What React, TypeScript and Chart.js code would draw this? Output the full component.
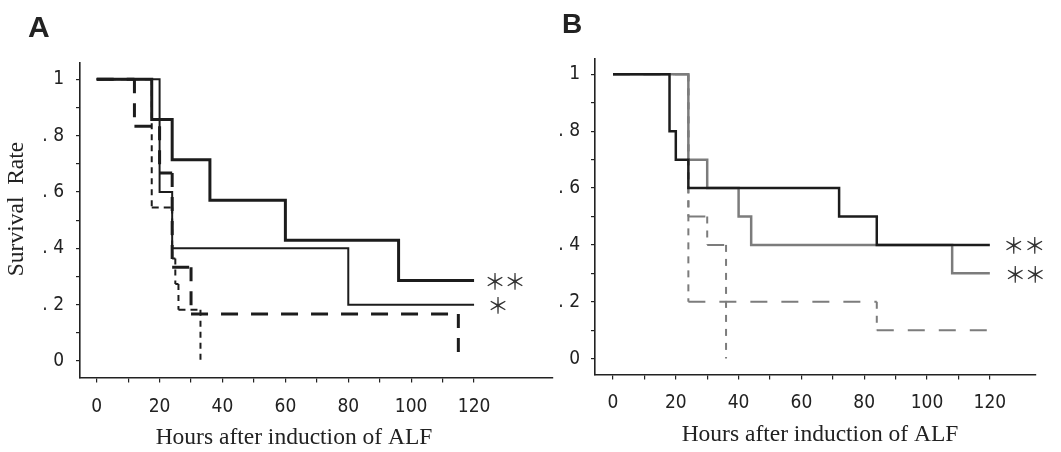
import React, { useEffect, useRef } from "react";
import { Chart, registerables } from "chart.js";

Chart.register(...registerables);

// ---------- Panel A data (hours, survival rate; Kaplan–Meier steps) ----------
const A_THICK_TIMES = [0, 17.5, 24, 36, 60, 96, 120];
const A_THICK_RATES = [1, 0.857, 0.714, 0.571, 0.429, 0.286, 0.286];
const A_THIN_TIMES = [0, 20, 24, 80, 120];
const A_THIN_RATES = [1, 0.6, 0.4, 0.2, 0.2];
const A_LONGDASH_TIMES = [0, 12, 20, 24, 30, 115];
const A_LONGDASH_RATES = [1, 0.833, 0.667, 0.333, 0.167, 0];
const A_SHORTDASH_TIMES = [0, 17.5, 24, 25, 26, 33];
const A_SHORTDASH_RATES = [1, 0.545, 0.364, 0.273, 0.182, 0];

// ---------- Panel B data ----------
const B_DARK_TIMES = [0, 18, 20, 24, 72, 84, 120];
const B_DARK_RATES = [1, 0.8, 0.7, 0.6, 0.5, 0.4, 0.4];
const B_GRAY_TIMES = [0, 24, 30, 40, 44, 108, 120];
const B_GRAY_RATES = [1, 0.7, 0.6, 0.5, 0.4, 0.3, 0.3];
const B_DASH1_TIMES = [0, 24, 30, 36];
const B_DASH1_RATES = [1, 0.5, 0.4, 0];
const B_DASH2_TIMES = [0, 24, 84, 120];
const B_DASH2_RATES = [1, 0.2, 0.1, 0.1];

// ---------- Axes ----------
const X_TICKS = [0, 10, 20, 30, 40, 50, 60, 70, 80, 90, 100, 110, 120];
const X_LABELED = [0, 20, 40, 60, 80, 100, 120];
const Y_TICKS = [0, 0.1, 0.2, 0.3, 0.4, 0.5, 0.6, 0.7, 0.8, 0.9, 1];
const Y_LABEL_VALUES = [0, 0.2, 0.4, 0.6, 0.8, 1];
const Y_LABEL_TEXT = ["0", ". 2", ". 4", ". 6", ". 8", "1"];
const X_TITLE = "Hours after induction of ALF";
const Y_TITLE = "Survival  Rate";
const STAR2 = ["＊", "＊"];
const STAR1 = ["＊"];

type Series = {
  times: number[];
  rates: number[];
  color: string;
  width: number;
  hDash: number[];
  vDash: number[];
};

function kmPoints(times: number[], rates: number[]) {
  const pts: { x: number; y: number }[] = [{ x: times[0], y: rates[0] }];
  for (let i = 1; i < times.length; i++) {
    pts.push({ x: times[i], y: rates[i - 1] });
    if (rates[i] !== rates[i - 1]) pts.push({ x: times[i], y: rates[i] });
  }
  return pts;
}

type Panel = {
  letter: string;
  letterFont: number;
  letterX: number;
  letterY: number;
  series: Series[];
  xMin: number;
  xMax: number;
  yMin: number;
  yMax: number;
  padTop: number;
  padRight: number;
  yAxisWidth: number;
  xAxisHeight: number;
  xTickPad: number;
  yTickPad: number;
  xTitleX: number;
  xTitleY: number;
  yTitle: boolean;
  stars: { series: number; marks: string[]; offsets: number[] }[];
};

const INK = "#1c1c1c";
const GRAY = "#7c7c7c";
const TICK_FONT = '"DejaVu Sans Condensed", "Liberation Sans", sans-serif';

const PANEL_A: Panel = {
  letter: "A",
  letterFont: 30,
  letterX: 28,
  letterY: 37,
  series: [
    { times: A_THICK_TIMES, rates: A_THICK_RATES, color: INK, width: 3, hDash: [], vDash: [] },
    { times: A_THIN_TIMES, rates: A_THIN_RATES, color: INK, width: 2, hDash: [], vDash: [] },
    { times: A_LONGDASH_TIMES, rates: A_LONGDASH_RATES, color: INK, width: 3, hDash: [17, 13], vDash: [14, 10] },
    { times: A_SHORTDASH_TIMES, rates: A_SHORTDASH_RATES, color: INK, width: 2, hDash: [7, 5], vDash: [6, 5] },
  ],
  xMin: -5.31,
  xMax: 145.1,
  yMin: -0.0586,
  yMax: 1.0586,
  padTop: 62.8,
  padRight: 3,
  yAxisWidth: 80,
  xAxisHeight: 452 - 377.5,
  xTickPad: 13,
  yTickPad: 12,
  xTitleX: 294,
  xTitleY: 444,
  yTitle: true,
  stars: [
    { series: 0, marks: STAR2, offsets: [21, 41] },
    { series: 1, marks: STAR1, offsets: [24] },
  ],
};

const PANEL_B: Panel = {
  letter: "B",
  letterFont: 28,
  letterX: 32,
  letterY: 33,
  series: [
    { times: B_DARK_TIMES, rates: B_DARK_RATES, color: INK, width: 2.5, hDash: [], vDash: [] },
    { times: B_GRAY_TIMES, rates: B_GRAY_RATES, color: GRAY, width: 2.5, hDash: [], vDash: [] },
    { times: B_DASH1_TIMES, rates: B_DASH1_RATES, color: GRAY, width: 2, hDash: [17, 13], vDash: [7, 7] },
    { times: B_DASH2_TIMES, rates: B_DASH2_RATES, color: GRAY, width: 2, hDash: [17, 14], vDash: [7, 7] },
  ],
  xMin: -5.73,
  xMax: 134.7,
  yMin: -0.0559,
  yMax: 1.0565,
  padTop: 58.3,
  padRight: 25,
  yAxisWidth: 65,
  xAxisHeight: 452 - 374.5,
  xTickPad: 12,
  yTickPad: 11,
  xTitleX: 290,
  xTitleY: 441,
  yTitle: false,
  stars: [
    { series: 0, marks: STAR2, offsets: [24, 45] },
    { series: 1, marks: STAR2, offsets: [25.5, 45.5] },
  ],
};

function makeConfig(p: Panel): any {
  const deco = {
    id: "deco-" + p.letter,
    afterDraw(chart: any) {
      const { ctx } = chart;
      const xs = chart.scales.x;
      const ys = chart.scales.y;
      ctx.save();
      ctx.fillStyle = "#222";
      // panel letter
      ctx.font = `bold ${p.letterFont}px "Liberation Sans", Arial, sans-serif`;
      ctx.textAlign = "left";
      ctx.textBaseline = "alphabetic";
      ctx.fillText(p.letter, p.letterX, p.letterY);
      // x title
      ctx.font = `23.5px "Liberation Serif", "Times New Roman", serif`;
      ctx.textAlign = "center";
      ctx.fillText(X_TITLE, p.xTitleX, p.xTitleY);
      // y title
      if (p.yTitle) {
        ctx.save();
        ctx.translate(17, 209);
        ctx.rotate(-Math.PI / 2);
        ctx.textBaseline = "middle";
        ctx.fillText(Y_TITLE, 0, 0);
        ctx.restore();
      }
      // asterisks
      ctx.font = `22px "Noto Sans CJK JP", "DejaVu Sans", sans-serif`;
      ctx.textBaseline = "middle";
      ctx.fillStyle = "#333";
      for (const st of p.stars) {
        const s = p.series[st.series];
        const lastT = s.times[s.times.length - 1];
        const lastR = s.rates[s.rates.length - 1];
        const px = xs.getPixelForValue(lastT);
        const py = ys.getPixelForValue(lastR);
        st.marks.forEach((m, i) => ctx.fillText(m, px + st.offsets[i], py));
      }
      ctx.restore();
    },
  };

  return {
    type: "line",
    data: {
      datasets: p.series.map((s) => ({
        data: kmPoints(s.times, s.rates),
        borderColor: s.color,
        borderWidth: s.width,
        borderDash: s.hDash,
        borderCapStyle: "butt",
        borderJoinStyle: "miter",
        pointRadius: 0,
        tension: 0,
        fill: false,
        segment: {
          borderDash: (ctx: any) =>
            s.hDash.length === 0
              ? []
              : ctx.p0.parsed.x === ctx.p1.parsed.x
              ? s.vDash
              : s.hDash,
        },
      })),
    },
    options: {
      animation: false,
      responsive: false,
      maintainAspectRatio: false,
      events: [],
      layout: { padding: { top: p.padTop, right: p.padRight, bottom: 0, left: 0 } },
      plugins: { legend: { display: false }, tooltip: { enabled: false }, title: { display: false } },
      scales: {
        x: {
          type: "linear",
          min: p.xMin,
          max: p.xMax,
          afterBuildTicks: (sc: any) => {
            sc.ticks = X_TICKS.map((v) => ({ value: v }));
          },
          afterFit: (sc: any) => {
            sc.height = p.xAxisHeight;
          },
          ticks: {
            autoSkip: false,
            maxRotation: 0,
            minRotation: 0,
            padding: p.xTickPad,
            color: "#222",
            font: { family: TICK_FONT, size: 19 },
            callback: (v: any) => (X_LABELED.includes(v) ? String(v) : ""),
          },
          grid: { drawOnChartArea: false, drawTicks: true, tickLength: 5, color: "#222", lineWidth: 1.2 },
          border: { display: true, color: "#222", width: 1.6 },
        },
        y: {
          type: "linear",
          min: p.yMin,
          max: p.yMax,
          afterBuildTicks: (sc: any) => {
            sc.ticks = Y_TICKS.map((v) => ({ value: v }));
          },
          afterFit: (sc: any) => {
            sc.width = p.yAxisWidth;
          },
          ticks: {
            autoSkip: false,
            padding: p.yTickPad,
            color: "#222",
            font: { family: TICK_FONT, size: 19 },
            callback: (v: any) => {
              const idx = Y_LABEL_VALUES.findIndex((q) => Math.abs(q - v) < 1e-6);
              return idx >= 0 ? Y_LABEL_TEXT[idx] : "";
            },
          },
          grid: { drawOnChartArea: false, drawTicks: true, tickLength: 4, color: "#222", lineWidth: 1.2 },
          border: { display: true, color: "#222", width: 1.6 },
        },
      },
    },
    plugins: [deco],
  };
}

function PanelChart({ panel, left, width }: { panel: Panel; left: number; width: number }) {
  const ref = useRef<HTMLCanvasElement | null>(null);
  useEffect(() => {
    if (!ref.current) return;
    const chart = new Chart(ref.current, makeConfig(panel));
    return () => chart.destroy();
  }, [panel]);
  return (
    <canvas
      ref={ref}
      width={width}
      height={452}
      style={{ position: "absolute", left, top: 0, width, height: 452 }}
    />
  );
}

export default function App() {
  return (
    <div
      style={{
        position: "absolute",
        left: 0,
        top: 0,
        width: 1061,
        height: 452,
        background: "#ffffff",
        overflow: "hidden",
      }}
    >
      <PanelChart panel={PANEL_A} left={0} width={556} />
      <PanelChart panel={PANEL_B} left={530} width={531} />
    </div>
  );
}
